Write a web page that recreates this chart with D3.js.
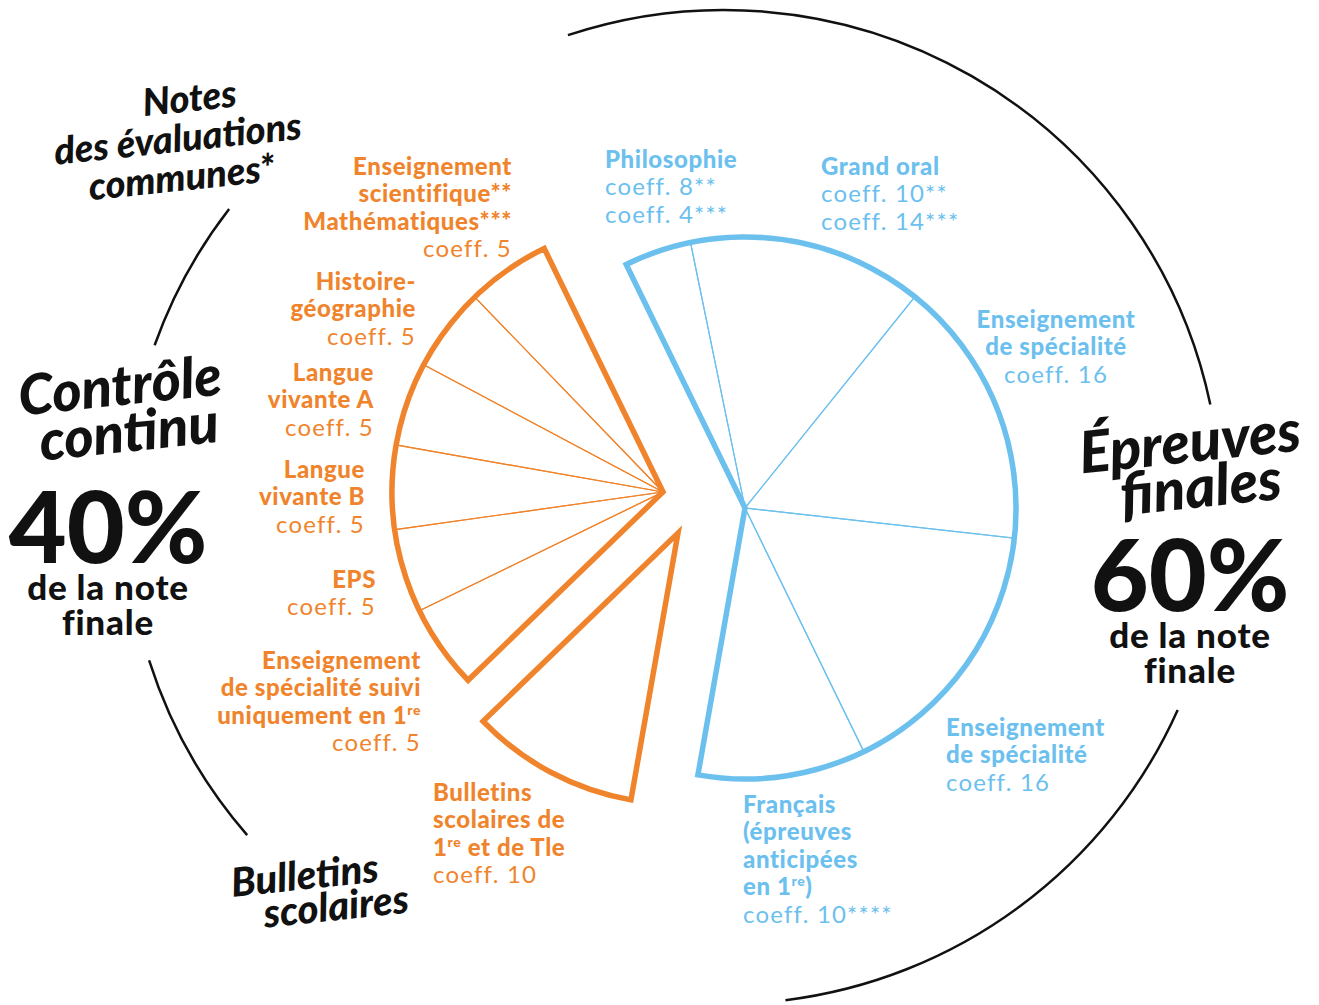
<!DOCTYPE html>
<html>
<head>
<meta charset="utf-8">
<script src="https://cdn.jsdelivr.net/npm/d3@7"></script>
<style>
  body { margin: 0; background: #fff; }
  .lab { font-family: Lato, "Noto Sans", sans-serif; font-size: 24px; letter-spacing: 1.2px; }
  .lab .b { font-weight: 900; letter-spacing: 0.6px; }
  .hand { font-family: Lato, sans-serif; font-style: italic; font-weight: 900; fill: #111; }
  .big { font-family: Lato, sans-serif; font-weight: 900; fill: #111; }
</style>
</head>
<body>
<svg id="chart"></svg>
<script>
// coefficients (tracks drawn with the "***" values for philo / grand oral)
const segments = ["Philosophie", "Grand oral", "Spécialité 1", "Spécialité 2", "Français",
  "Bulletins", "Spécialité 1re", "EPS", "Langue vivante B", "Langue vivante A", "Histoire-géographie", "Ens. scientifique"];
const coeffs = [4, 14, 16, 16, 10, 10, 5, 5, 5, 5, 5, 5];
const groupOf = ["finales", "finales", "finales", "finales", "finales",
  "bulletins", "notes", "notes", "notes", "notes", "notes", "notes"];

const orange = "#f0842c", blue = "#6cc0ee";

const width = 1319, height = 1005;
const R = 271;
const deg = Math.PI / 180;
const startAngle = -26 * deg;

// each group is pulled out from the pie on its own centre
const centers = {
  finales: [745, 508],
  bulletins: [678, 533],
  notes: [663, 492]
};
const colors = { finales: blue, bulletins: orange, notes: orange };

const svg = d3.select("#chart").attr("width", width).attr("height", height);

const pie = d3.pie().sort(null).value(d => d.coeff)
  .startAngle(startAngle).endAngle(startAngle + 2 * Math.PI);

const slices = pie(segments.map((s, i) => ({ name: s, coeff: coeffs[i], group: groupOf[i] })));

const arc = d3.arc().innerRadius(0).outerRadius(R);

// thin inner wedges
svg.append("g").selectAll("path")
  .data(slices)
  .join("path")
  .attr("transform", d => `translate(${centers[d.data.group]})`)
  .attr("d", arc)
  .attr("fill", "none")
  .attr("stroke", d => colors[d.data.group])
  .attr("stroke-width", 1.2);

// thick outline round each group
const groupNames = ["finales", "bulletins", "notes"];
const groupArcs = groupNames.map(g => {
  const s = slices.filter(d => d.data.group === g);
  return { group: g, startAngle: s[0].startAngle, endAngle: s[s.length - 1].endAngle };
});

svg.append("g").selectAll("path")
  .data(groupArcs)
  .join("path")
  .attr("transform", d => `translate(${centers[d.group]})`)
  .attr("d", arc)
  .attr("fill", "none")
  .attr("stroke", d => colors[d.group])
  .attr("stroke-width", 5.5)
  .attr("stroke-linejoin", "miter");

// outer thin black rings (right ring = épreuves finales, left = contrôle continu)
const rings = [
  { c: [724, 507], r: 497, a0: -18.3, a1: 78.1 },
  { c: [724, 507], r: 497, a0: 114.1, a1: 172.9 },
  { c: [620, 511], r: 494, a0: 229, a1: 252.4 },
  { c: [620, 511], r: 494, a0: 289.6, a1: 307.7 }
];
svg.append("g").selectAll("path")
  .data(rings)
  .join("path")
  .attr("transform", d => `translate(${d.c})`)
  .attr("d", d => d3.arc()({ innerRadius: d.r, outerRadius: d.r, startAngle: d.a0 * deg, endAngle: d.a1 * deg }))
  .attr("fill", "none")
  .attr("stroke", "#111")
  .attr("stroke-width", 2.5);

// segment labels: each line is [text, bold?]
const labels = [
  { x: 512, y: 175, anchor: "end", color: orange, lines: [["Enseignement", 1], ["scientifique**", 1], ["Mathématiques***", 1], ["coeff. 5", 0]] },
  { x: 416, y: 290, anchor: "end", color: orange, lines: [["Histoire-", 1], ["géographie", 1], ["coeff. 5", 0]] },
  { x: 374, y: 381, anchor: "end", color: orange, lines: [["Langue", 1], ["vivante A", 1], ["coeff. 5", 0]] },
  { x: 365, y: 478, anchor: "end", color: orange, lines: [["Langue", 1], ["vivante B", 1], ["coeff. 5", 0]] },
  { x: 376, y: 588, anchor: "end", color: orange, lines: [["EPS", 1], ["coeff. 5", 0]] },
  { x: 421, y: 669, anchor: "end", color: orange, lines: [["Enseignement", 1], ["de spécialité suivi", 1], ["uniquement en 1|re", 1], ["coeff. 5", 0]] },
  { x: 433, y: 801, anchor: "start", color: orange, lines: [["Bulletins", 1], ["scolaires de", 1], ["1|re| et de Tle", 1], ["coeff. 10", 0]] },
  { x: 743, y: 813, anchor: "start", color: blue, lines: [["Français", 1], ["(épreuves", 1], ["anticipées", 1], ["en 1|re|)", 1], ["coeff. 10****", 0]] },
  { x: 946, y: 736, anchor: "start", color: blue, lines: [["Enseignement", 1], ["de spécialité", 1], ["coeff. 16", 0]] },
  { x: 1056, y: 328, anchor: "middle", color: blue, lines: [["Enseignement", 1], ["de spécialité", 1], ["coeff. 16", 0]] },
  { x: 605, y: 168, anchor: "start", color: blue, lines: [["Philosophie", 1], ["coeff. 8**", 0], ["coeff. 4***", 0]] },
  { x: 821, y: 175, anchor: "start", color: blue, lines: [["Grand oral", 1], ["coeff. 10**", 0], ["coeff. 14***", 0]] }
];

const lineH = 27.4;
const lab = svg.append("g").selectAll("text")
  .data(labels)
  .join("text")
  .attr("class", "lab")
  .attr("fill", d => d.color)
  .attr("text-anchor", d => d.anchor);

lab.each(function (d) {
  const t = d3.select(this);
  d.lines.forEach((ln, i) => {
    // "|" splits off a superscript part
    const parts = ln[0].split("|");
    parts.forEach((p, j) => {
      if (p === "") return;
      const ts = t.append("tspan").attr("class", ln[1] ? "b" : null).text(p);
      if (j === 0) ts.attr("x", d.x).attr("y", d.y + i * lineH);
      if (j === 1) ts.attr("font-size", "14px").attr("dy", "-9");
      if (j === 2) ts.attr("dy", "9");
    });
  });
});

// hand-written group titles
const hand = [
  { x: 175, y: 113, size: 38, rot: -6, lines: ["Notes", "des évaluations", "communes*"], lh: 39 },
  { x: 122, y: 405, size: 56, rot: -6, lines: ["Contrôle", "continu"], lh: 47 },
  { x: 1192, y: 462, size: 58, rot: -6, lines: ["Épreuves", "finales"], lh: 46 },
  { x: 318, y: 888, size: 40, rot: -6, lines: ["Bulletins", "scolaires"], lh: 34 }
];
const offs = [[16, 0, 0], [0, 4], [0, 6], [-12, 16]];
svg.append("g").selectAll("text")
  .data(hand)
  .join("text")
  .attr("class", "hand")
  .attr("text-anchor", "middle")
  .attr("font-size", d => d.size)
  .attr("transform", d => `rotate(${d.rot},${d.x},${d.y})`)
  .each(function (d, k) {
    d.lines.forEach((l, i) => {
      d3.select(this).append("tspan")
        .attr("x", d.x + offs[k][i]).attr("y", d.y + i * d.lh).text(l);
    });
  });

// big percentages
const shares = [
  { x: 108, pct: "40%", y: 563 },
  { x: 1190, pct: "60%", y: 611 }
];
const share = svg.append("g").selectAll("g")
  .data(shares)
  .join("g");
share.append("text").attr("class", "big")
  .attr("x", d => d.x).attr("y", d => d.y)
  .attr("text-anchor", "middle").attr("font-size", 100)
  .text(d => d.pct);
share.append("text").attr("class", "big")
  .attr("text-anchor", "middle").attr("font-size", 35).attr("letter-spacing", 0.8)
  .each(function (d) {
    const t = d3.select(this);
    t.append("tspan").attr("x", d.x).attr("y", d.y + 37).text("de la note");
    t.append("tspan").attr("x", d.x).attr("y", d.y + 72).text("finale");
  });
</script>
</body>
</html>
